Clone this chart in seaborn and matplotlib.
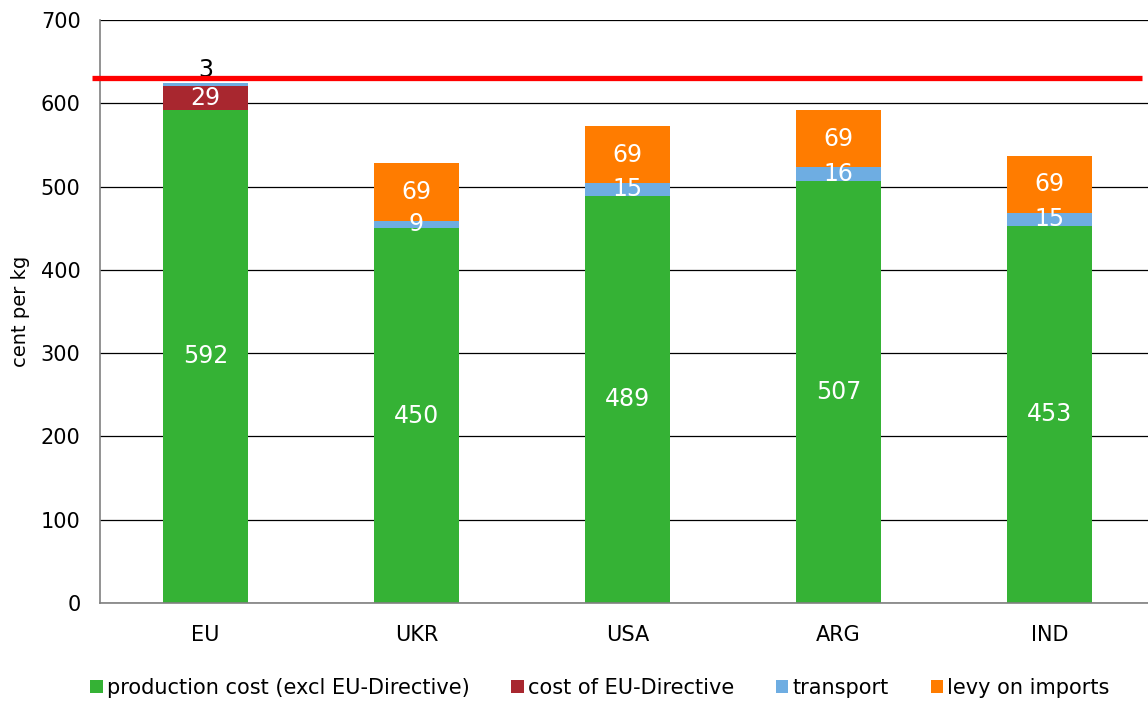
import numpy as np
import pandas as pd
import seaborn as sns
import matplotlib.pyplot as plt
from matplotlib.patches import Patch
from matplotlib.ticker import MultipleLocator

countries = ['EU', 'UKR', 'USA', 'ARG', 'IND']
production = [592, 450, 489, 507, 453]
directive = [29, 0, 0, 0, 0]
transport = [3, 9, 15, 16, 15]
levy = [0, 69, 69, 69, 69]
eu_price = 630

series_names = ['production cost (excl EU-Directive)', 'cost of EU-Directive', 'transport', 'levy on imports']
series_vals = [production, directive, transport, levy]
colors = ['#35B235', '#A8272F', '#6EADE2', '#FF7C00']

sns.set_style('white')
plt.rcParams['font.family'] = ['DejaVu Sans']
plt.rcParams['text.color'] = 'black'
plt.rcParams['xtick.color'] = 'black'
plt.rcParams['ytick.color'] = 'black'
plt.rcParams['axes.labelcolor'] = 'black'

vals = np.array(series_vals, dtype=float)
tops = np.cumsum(vals, axis=0)
bottoms = tops - vals

fig = plt.figure(figsize=(11.48, 7.02), dpi=100)
ax = fig.add_axes([0.0871, 0.141, 0.919, 0.8305])

# stacked bars: draw cumulative totals from the top layer down
for i in range(len(series_names) - 1, -1, -1):
    df = pd.DataFrame({'country': countries, 'value': tops[i]})
    sns.barplot(data=df, x='country', y='value', color=colors[i], width=0.4,
                linewidth=0, saturation=1, ax=ax, zorder=2)

# segment labels
for i in range(len(series_names)):
    for j in range(len(countries)):
        v = vals[i, j]
        if v <= 0:
            continue
        if v < 5:
            ax.annotate('%d' % v, (j, tops[i, j]), xytext=(0, 1), textcoords='offset points',
                        ha='center', va='bottom', fontsize=17, color='black', zorder=4)
        else:
            ax.text(j, (bottoms[i, j] + tops[i, j]) / 2, '%d' % v, ha='center', va='center',
                    fontsize=17, color='white', zorder=4)

# EU price line
ax.plot([-0.54, 4.44], [eu_price, eu_price], color='#FF0000', lw=3.8, clip_on=False, zorder=5,
        solid_capstyle='butt')

ax.set_xlim(-0.5, 4.5)
ax.set_ylim(0, 700)
ax.yaxis.set_major_locator(MultipleLocator(100))
ax.grid(axis='y', color='black', lw=0.9, zorder=0)
ax.set_axisbelow(True)
for s in ['top', 'right']:
    ax.spines[s].set_visible(False)
for s in ['left', 'bottom']:
    ax.spines[s].set_color('#808080')
    ax.spines[s].set_linewidth(1.2)

ax.set_xticks(np.arange(len(countries)))
ax.set_xticklabels(countries)
ax.set_xticks(np.arange(len(countries)) - 0.5, minor=True)
ax.tick_params(axis='x', which='major', length=0, pad=16, labelsize=15)
ax.tick_params(axis='x', which='minor', length=6, width=1, color='#404040', direction='out')
ax.tick_params(axis='y', length=6, width=1, color='#404040', direction='out', pad=8, labelsize=15)
ax.set_xlabel('')
ax.set_ylabel('cent per kg', fontsize=14, labelpad=8)

handles = [Patch(facecolor=c, edgecolor='none') for c in colors]
fig.legend(handles, series_names, loc='center', bbox_to_anchor=(0.5226, 0.02), ncol=4,
           frameon=False, fontsize=15, handlelength=0.6, handleheight=0.6,
           handletextpad=0.2, columnspacing=2.0)

fig.savefig('out.png', dpi=100)
